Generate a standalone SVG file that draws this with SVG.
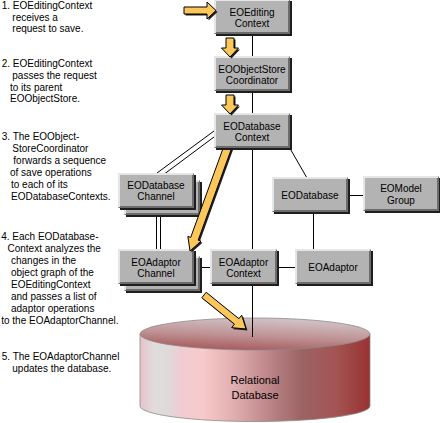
<svg xmlns="http://www.w3.org/2000/svg" xmlns:xlink="http://www.w3.org/1999/xlink" width="440" height="423" viewBox="0 0 440 423">
<style>
.lt{font-family:"Liberation Sans",Arial,sans-serif;font-size:10px;fill:#000}
.bl{font-family:"Liberation Sans",Arial,sans-serif;font-size:10px;fill:#000;text-anchor:middle}
.cl{font-family:"Liberation Sans",Arial,sans-serif;font-size:11px;fill:#000;text-anchor:middle}
.sh{fill:#1e1e1e}
.fc{fill:#b3b3b3}
.hl{fill:none;stroke:#e6e6e6;stroke-width:2}
.dk{fill:none;stroke:#6c6c6c;stroke-width:2}
.ln{fill:none;stroke:#000;stroke-width:1}
.ar{fill:#fbc65a;stroke:#000;stroke-width:1;stroke-linejoin:miter}
.as{fill:#222}
</style>
<defs>
<linearGradient id="side" x1="140" y1="0" x2="370" y2="0" gradientUnits="userSpaceOnUse">
<stop offset="0" stop-color="#e6c2ca"/>
<stop offset="0.06" stop-color="#e2dcdc"/>
<stop offset="0.12" stop-color="#dedada"/>
<stop offset="0.18" stop-color="#efccd2"/>
<stop offset="0.27" stop-color="#f8caca"/>
<stop offset="0.4" stop-color="#e2b0b2"/>
<stop offset="0.5" stop-color="#cc9698"/>
<stop offset="0.6" stop-color="#b27c7e"/>
<stop offset="0.7" stop-color="#9c6464"/>
<stop offset="0.85" stop-color="#a45454"/>
<stop offset="1" stop-color="#983232"/>
</linearGradient>
<linearGradient id="top" x1="0.35" y1="1" x2="0.65" y2="0">
<stop offset="0" stop-color="#a65a5c"/>
<stop offset="0.45" stop-color="#bf9294"/>
<stop offset="1" stop-color="#d2c6ca"/>
</linearGradient>
<g id="b76">
<rect class="sh" x="2" y="2" width="76" height="35"/>
<rect class="fc" width="76" height="35"/>
<path class="dk" d="M1,34 H75 V1"/>
<path class="hl" d="M1,34 V1 H75"/>
</g>
<g id="b67">
<rect class="sh" x="2" y="2" width="67" height="35"/>
<rect class="fc" width="67" height="35"/>
<path class="dk" d="M1,34 H66 V1"/>
<path class="hl" d="M1,34 V1 H66"/>
</g>
</defs>
<rect width="440" height="423" fill="#fff"/>

<g id="steps">
<text class="lt" x="1.7" y="9">1. EOEditingContext</text>
<text class="lt" x="12.3" y="20.7">receives a</text>
<text class="lt" x="12.3" y="32.3">request to save.</text>
<text class="lt" x="1.7" y="66.7">2. EOEditingContext</text>
<text class="lt" x="12.3" y="79">passes the request</text>
<text class="lt" x="10" y="90.7">to its parent</text>
<text class="lt" x="10" y="102.3">EOObjectStore.</text>
<text class="lt" x="1.7" y="140">3. The EOObject-</text>
<text class="lt" x="12.3" y="151.7">StoreCoordinator</text>
<text class="lt" x="13.3" y="164">forwards a sequence</text>
<text class="lt" x="10" y="175.7">of save operations</text>
<text class="lt" x="11" y="187.7">to each of its</text>
<text class="lt" x="11" y="200">EODatabaseContexts.</text>
<text class="lt" x="1.2" y="240">4. Each EODatabase-</text>
<text class="lt" x="7.5" y="251.7">Context analyzes the</text>
<text class="lt" x="11" y="264.3">changes in the</text>
<text class="lt" x="11" y="276">object graph of the</text>
<text class="lt" x="11" y="288.3">EOEditingContext</text>
<text class="lt" x="11" y="300">and passes a list of</text>
<text class="lt" x="11" y="311.7">adaptor operations</text>
<text class="lt" x="1.2" y="324.3">to the EOAdaptorChannel.</text>
<text class="lt" x="1.7" y="360">5. The EOAdaptorChannel</text>
<text class="lt" x="12.3" y="371.7">updates the database.</text>
</g>

<g id="database">
<path d="M140,334 V406 A115,15.5 0 0 0 370,406 V334 Z" fill="url(#side)" stroke="#8a8a8a" stroke-width="0.8"/>
<ellipse cx="255" cy="334" rx="115" ry="16" fill="url(#top)" stroke="#8a8a8a" stroke-width="0.8"/>
<text class="cl" x="255" y="384">Relational</text>
<text class="cl" x="255" y="398.5">Database</text>
</g>

<g id="connectors">
<path class="ln" d="M252.5,30 V337"/>
<path class="ln" d="M214,131 L157,173"/>
<path class="ln" d="M214,137 L163,175"/>
<path class="ln" d="M156.5,200 V250"/>
<path class="ln" d="M160.5,200 V250"/>
<path class="ln" d="M288,145 L307,178"/>
<path class="ln" d="M195,267.5 H300"/>
<path class="ln" d="M313.5,205 V250"/>
<path class="ln" d="M345,195.5 H365"/>
</g>

<g id="n-dbchannel">
<use xlink:href="#b76" x="124" y="180"/>
<use xlink:href="#b76" x="118" y="173"/>
<text class="bl" x="156" y="189">EODatabase</text>
<text class="bl" x="156" y="200">Channel</text>
</g>
<g id="n-adchannel">
<use xlink:href="#b76" x="124" y="256"/>
<use xlink:href="#b76" x="118" y="249"/>
<text class="bl" x="156" y="266">EOAdaptor</text>
<text class="bl" x="156" y="277">Channel</text>
</g>
<g id="n-adcontext">
<use xlink:href="#b67" x="210" y="249"/>
<text class="bl" x="243.5" y="266">EOAdaptor</text>
<text class="bl" x="243.5" y="277">Context</text>
</g>
<g id="n-adaptor">
<use xlink:href="#b76" x="295" y="249"/>
<text class="bl" x="333" y="270.5">EOAdaptor</text>
</g>
<g id="n-database">
<use xlink:href="#b76" x="272" y="177"/>
<text class="bl" x="310" y="198.5">EODatabase</text>
</g>
<g id="n-modelgroup">
<use xlink:href="#b76" x="363" y="176"/>
<text class="bl" x="401" y="192">EOModel</text>
<text class="bl" x="401" y="203.5">Group</text>
</g>

<g id="arrow-diag">
<polygon class="as" transform="translate(1.5,1.5)" points="237.76,131.37 198.2,240.15 201.02,241.17 190,251 187.86,236.39 190.68,237.41 230.24,128.63"/>
<polygon class="ar" points="237.76,131.37 198.2,240.15 201.02,241.17 190,251 187.86,236.39 190.68,237.41 230.24,128.63"/>
</g>

<g id="n-editing">
<use xlink:href="#b76" x="214" y="-1"/>
<text class="bl" x="252" y="16">EOEditing</text>
<text class="bl" x="252" y="27">Context</text>
</g>
<g id="n-coordinator">
<use xlink:href="#b76" x="214" y="56"/>
<text class="bl" x="252" y="73">EOObjectStore</text>
<text class="bl" x="252" y="84">Coordinator</text>
</g>
<g id="n-dbcontext">
<use xlink:href="#b76" x="214" y="113"/>
<text class="bl" x="252" y="130">EODatabase</text>
<text class="bl" x="252" y="141">Context</text>
</g>

<g id="arrows">
<polygon class="as" transform="translate(1.5,1.5)" points="184,7 207,7 207,2 216,10.5 207,19 207,14 184,14"/>
<polygon class="ar" points="184,7 207,7 207,2 216,10.5 207,19 207,14 184,14"/>
<polygon class="as" transform="translate(1.5,1.5)" points="226,38 234,38 234,48 238.5,48 230,57 221.5,48 226,48"/>
<polygon class="ar" points="226,38 234,38 234,48 238.5,48 230,57 221.5,48 226,48"/>
<polygon class="as" transform="translate(1.5,1.5)" points="226,95 234,95 234,105 238.5,105 230,114 221.5,105 226,105"/>
<polygon class="ar" points="226,95 234,95 234,105 238.5,105 230,114 221.5,105 226,105"/>
<polygon class="as" transform="translate(1.5,1.5)" points="201.8,297.72 234.48,324.17 231.65,327.67 246,329 241.71,315.23 238.88,318.73 206.2,292.28"/>
<polygon class="ar" points="201.8,297.72 234.48,324.17 231.65,327.67 246,329 241.71,315.23 238.88,318.73 206.2,292.28"/>
</g>
</svg>
